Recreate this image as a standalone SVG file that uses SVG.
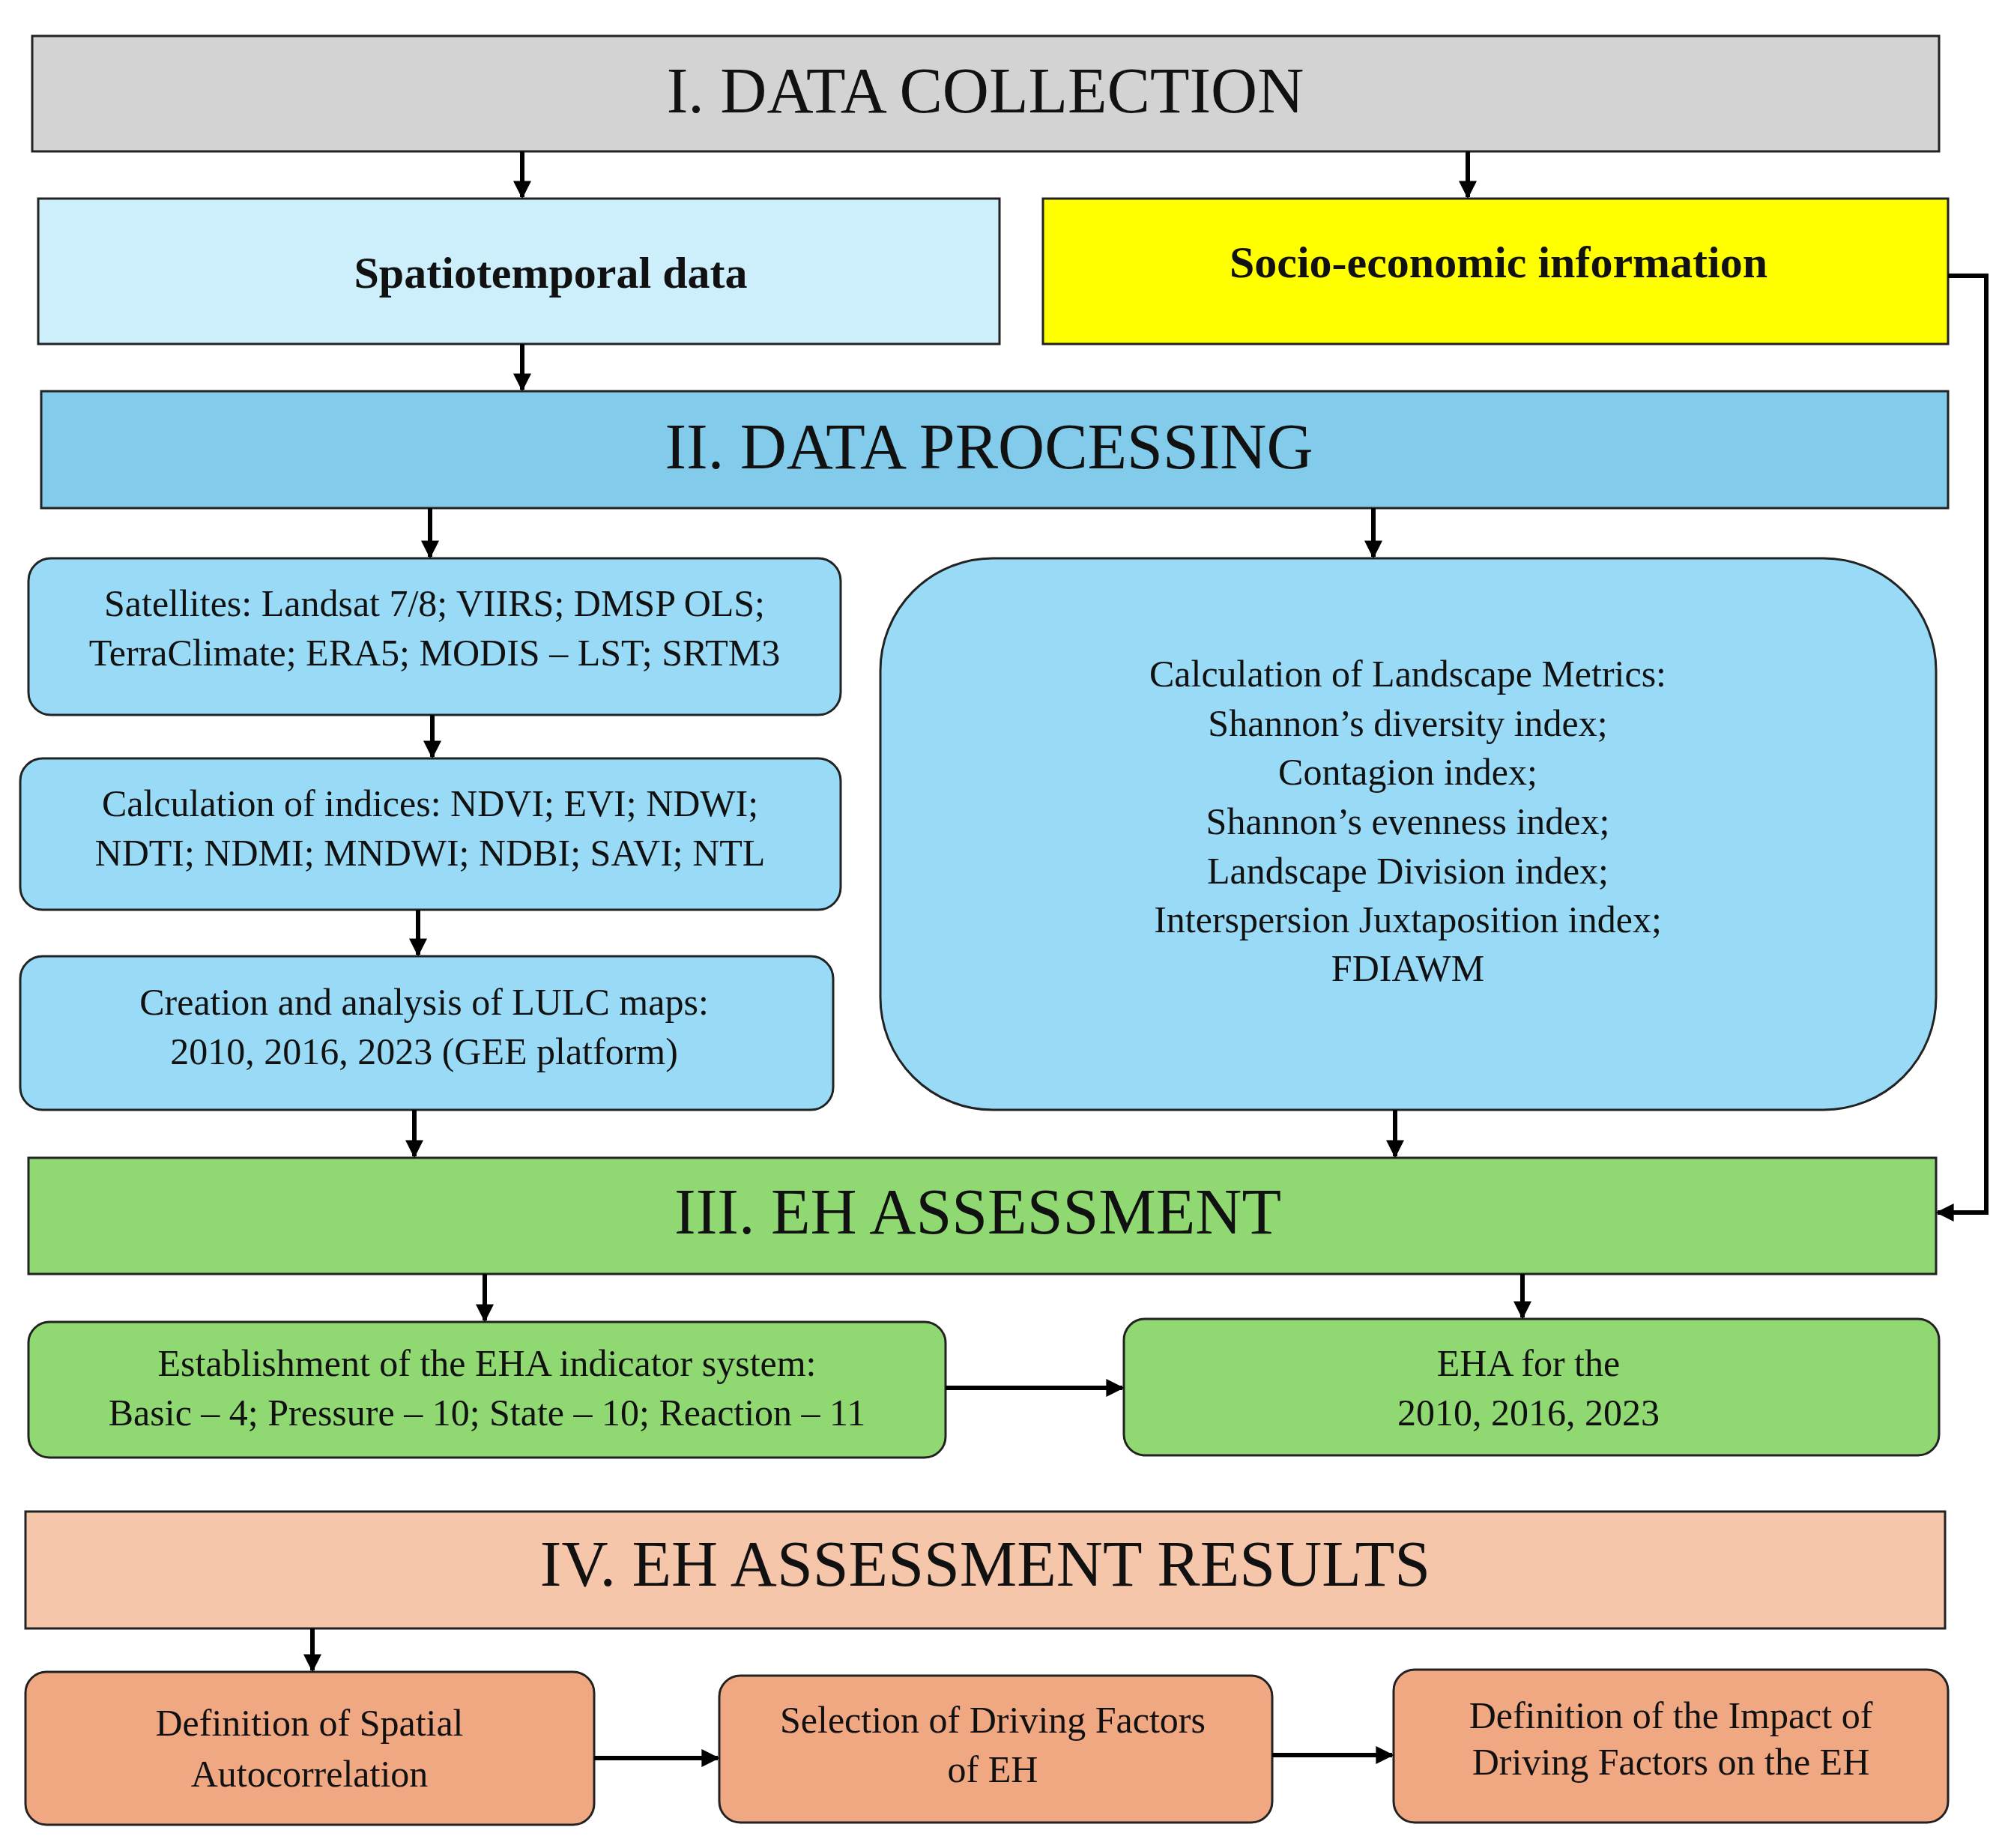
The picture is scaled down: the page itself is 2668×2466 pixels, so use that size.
<svg xmlns="http://www.w3.org/2000/svg" width="2668" height="2466" viewBox="0 0 2668 2466">
<defs>
<style>
.b{stroke:#222;stroke-width:3}
.t{font-family:"Liberation Serif","DejaVu Serif",serif;fill:#111;text-anchor:middle}
.h{font-size:86px}
.m{font-size:50px}
.bt{font-size:60px;font-weight:bold}
.c{stroke:#000;stroke-width:6;fill:none}
</style>
<marker id="a" viewBox="0 0 10 10" refX="9" refY="5" markerWidth="4" markerHeight="4" orient="auto" markerUnits="strokeWidth"><path d="M0,0L10,5L0,10z" fill="#000"/></marker>
</defs>
<rect width="2668" height="2466" fill="#fff"/>
<g id="n1"><rect class="b" x="43" y="48" width="2545" height="154" fill="#d3d3d3"/><text class="t h" x="1315" y="150">I. DATA COLLECTION</text></g>
<g id="n2"><rect class="b" x="51" y="265" width="1283" height="194" fill="#cdeefb"/><text class="t bt" x="735" y="384">Spatiotemporal data</text></g>
<g id="n3"><rect class="b" x="1392" y="265" width="1208" height="194" fill="#ffff00"/><text class="t bt" x="2000" y="370">Socio-economic information</text></g>
<g id="n4"><rect class="b" x="55" y="522" width="2545" height="156" fill="#82cbea"/><text class="t h" x="1320" y="625">II. DATA PROCESSING</text></g>
<g id="n5"><rect class="b" x="38" y="745" width="1084" height="209" rx="30" fill="#99dbf7"/><text class="t m" x="580" y="822">Satellites: Landsat 7/8; VIIRS; DMSP OLS;</text><text class="t m" x="580" y="888">TerraClimate; ERA5; MODIS – LST; SRTM3</text></g>
<g id="n6"><rect class="b" x="27" y="1012" width="1095" height="202" rx="30" fill="#99dbf7"/><text class="t m" x="574" y="1089">Calculation of indices: NDVI; EVI; NDWI;</text><text class="t m" x="574" y="1155">NDTI; NDMI;  MNDWI; NDBI; SAVI; NTL</text></g>
<g id="n7"><rect class="b" x="27" y="1276" width="1085" height="205" rx="30" fill="#99dbf7"/><text class="t m" x="566" y="1354">Creation and analysis of LULC maps:</text><text class="t m" x="566" y="1420">2010, 2016, 2023 (GEE platform)</text></g>
<g id="n8"><rect class="b" x="1175" y="745" width="1409" height="736" rx="150" fill="#99dbf7"/>
<text class="t m" x="1879" y="916">Calculation of Landscape Metrics:</text>
<text class="t m" x="1879" y="982">Shannon’s diversity index;</text>
<text class="t m" x="1879" y="1047">Contagion index;</text>
<text class="t m" x="1879" y="1113">Shannon’s evenness index;</text>
<text class="t m" x="1879" y="1179">Landscape Division index;</text>
<text class="t m" x="1879" y="1244">Interspersion Juxtaposition index;</text>
<text class="t m" x="1879" y="1309">FDIAWM</text></g>
<g id="n9"><rect class="b" x="38" y="1545" width="2546" height="155" fill="#8fd872"/><text class="t h" x="1305" y="1646">III. EH ASSESSMENT</text></g>
<g id="n10"><rect class="b" x="38" y="1764" width="1224" height="181" rx="28" fill="#8fd872"/><text class="t m" x="650" y="1836">Establishment of the EHA indicator system:</text><text class="t m" x="650" y="1902">Basic – 4; Pressure – 10; State – 10; Reaction – 11</text></g>
<g id="n11"><rect class="b" x="1500" y="1760" width="1088" height="182" rx="28" fill="#8fd872"/><text class="t m" x="2040" y="1836">EHA for the</text><text class="t m" x="2040" y="1902">2010, 2016, 2023</text></g>
<g id="n12"><rect class="b" x="34" y="2017" width="2562" height="156" fill="#f5c6aa"/><text class="t h" x="1315" y="2116">IV. EH ASSESSMENT RESULTS</text></g>
<g id="n13"><rect class="b" x="34" y="2231" width="759" height="204" rx="28" fill="#f0a882"/><text class="t m" x="413" y="2316">Definition of Spatial</text><text class="t m" x="413" y="2384">Autocorrelation</text></g>
<g id="n14"><rect class="b" x="960" y="2236" width="738" height="196" rx="28" fill="#f0a882"/><text class="t m" x="1325" y="2312">Selection of Driving Factors</text><text class="t m" x="1325" y="2378">of EH</text></g>
<g id="n15"><rect class="b" x="1860" y="2228" width="740" height="204" rx="28" fill="#f0a882"/><text class="t m" x="2230" y="2306">Definition of the Impact of</text><text class="t m" x="2230" y="2368">Driving Factors on the EH</text></g>
<g id="connectors">
<path class="c" marker-end="url(#a)" d="M697,202V263"/>
<path class="c" marker-end="url(#a)" d="M1959,202V263"/>
<path class="c" marker-end="url(#a)" d="M697,459V520"/>
<path class="c" marker-end="url(#a)" d="M574,678V743"/>
<path class="c" marker-end="url(#a)" d="M1833,678V743"/>
<path class="c" marker-end="url(#a)" d="M577,954V1010"/>
<path class="c" marker-end="url(#a)" d="M558,1214V1274"/>
<path class="c" marker-end="url(#a)" d="M553,1481V1543"/>
<path class="c" marker-end="url(#a)" d="M1862,1481V1543"/>
<path class="c" marker-end="url(#a)" d="M647,1700V1762"/>
<path class="c" marker-end="url(#a)" d="M2032,1700V1758"/>
<path class="c" marker-end="url(#a)" d="M417,2173V2229"/>
<path class="c" marker-end="url(#a)" d="M1262,1852H1498"/>
<path class="c" marker-end="url(#a)" d="M793,2346H958"/>
<path class="c" marker-end="url(#a)" d="M1698,2342H1858"/>
<path class="c" marker-end="url(#a)" d="M2600,368H2651V1618H2586"/>
</g>
</svg>
